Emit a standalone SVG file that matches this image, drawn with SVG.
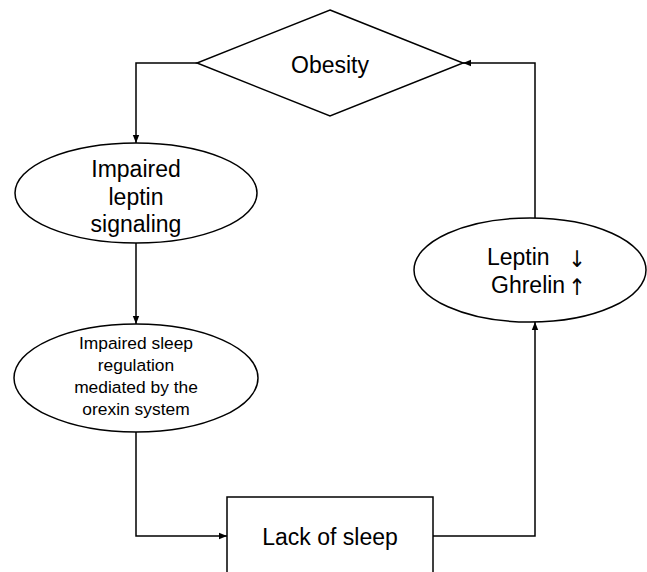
<svg xmlns="http://www.w3.org/2000/svg" width="647" height="572" viewBox="0 0 647 572">
<style>
.s{fill:#fff;stroke:#000;stroke-width:1.5}
.c{fill:none;stroke:#000;stroke-width:1.5}
text{font-family:"Liberation Sans",Arial,sans-serif;fill:#000;text-anchor:middle}
.b{font-size:23px}
.m{font-size:17.4px}
.ar{font-family:"DejaVu Sans Condensed","DejaVu Sans",sans-serif;font-size:23px}
</style>
<defs>
<marker id="a" viewBox="0 0 10 10" refX="10" refY="5" markerWidth="8" markerHeight="8" markerUnits="userSpaceOnUse" orient="auto">
<path d="M0,1 L10,5 L0,9 Z" fill="#000"/>
</marker>
</defs>
<rect width="647" height="572" fill="#fff"/>
<g id="connectors">
<path class="c" d="M197,63 H136 V143" marker-end="url(#a)"/>
<path class="c" d="M136,243 V324" marker-end="url(#a)"/>
<path class="c" d="M136,432 V536 H227" marker-end="url(#a)"/>
<path class="c" d="M433,536 H535 V322" marker-end="url(#a)"/>
<path class="c" d="M535,218 V63 H463" marker-end="url(#a)"/>
</g>
<g id="obesity">
<polygon class="s" points="330,10 463,63 330,116 197,63"/>
<text class="b" x="330" y="73">Obesity</text>
</g>
<g id="leptin-signaling">
<ellipse class="s" cx="136" cy="193" rx="121" ry="50"/>
<text class="b" x="136" y="177">Impaired</text>
<text class="b" x="136" y="205">leptin</text>
<text class="b" x="136" y="232">signaling</text>
</g>
<g id="sleep-regulation">
<ellipse class="s" cx="136" cy="378" rx="122" ry="54"/>
<text class="m" x="136" y="349">Impaired sleep</text>
<text class="m" x="136" y="371">regulation</text>
<text class="m" x="136" y="393">mediated by the</text>
<text class="m" x="136" y="415">orexin system</text>
</g>
<g id="hormones">
<ellipse class="s" cx="530" cy="270" rx="116" ry="52"/>
<text class="b" x="487" y="265" style="text-anchor:start">Leptin</text>
<text class="ar" x="577" y="267">↓</text>
<text class="b" x="491" y="293" style="text-anchor:start">Ghrelin</text>
<text class="ar" x="577" y="295">↑</text>
</g>
<g id="lack-of-sleep">
<rect class="s" x="227" y="497" width="206" height="90"/>
<text class="b" x="330" y="545">Lack of sleep</text>
</g>
</svg>
